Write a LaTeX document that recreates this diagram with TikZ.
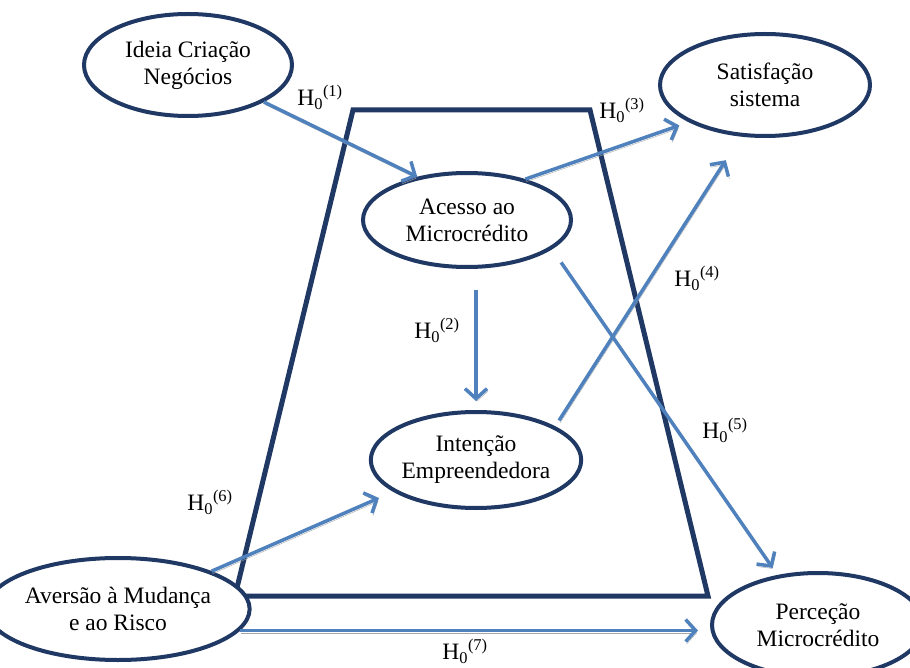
\documentclass[tikz,border=0pt]{standalone}
\usepackage{fontspec}
\setmainfont{Liberation Serif}
\usetikzlibrary{shapes.geometric,arrows.meta}
\definecolor{navy}{RGB}{31,56,100}
\definecolor{linkblue}{RGB}{79,129,189}
\tikzset{
  construct/.style={ellipse, draw=navy, line width=4pt, fill=white, inner sep=0pt,
    align=center, font=\fontsize{23.5}{27}\selectfont},
  link/.style={draw=linkblue, line width=3.5pt,
    -{Straight Barb[length=10pt,width=22pt]},
    preaction={draw=black!35, transform canvas={shift={(1pt,-2.5pt)}}}},
  hyp/.style={inner sep=0pt, font=\fontsize{23.5}{27}\selectfont},
  frame/.style={draw=navy, line width=5pt, line join=miter}
}
\newcommand{\hz}[1]{H\textsubscript{0}\textsuperscript{(#1)}}
\begin{document}
\begin{tikzpicture}[x=1pt,y=-1pt]
\clip (0,0) rectangle (910,668);
\fill[white] (0,0) rectangle (910,668);

% central trapezoid
\draw[frame] (353,110) -- (590,110) -- (708,596) -- (235,596) -- cycle;

% constructs
\node[construct, minimum width=208pt, minimum height=102pt] (idea) at (188,65) {Ideia Criação\\Negócios};
\node[construct, minimum width=210pt, minimum height=102pt] (sat) at (765,85) {Satisfação\\sistema};
\node[construct, minimum width=208pt, minimum height=94pt] (acc) at (467,220) {Acesso ao\\Microcrédito};
\node[construct, minimum width=208pt, minimum height=96pt] (int) at (476,460) {Intenção\\Empreendedora};
\node[construct, minimum width=212pt, minimum height=102pt] (av) at (118,609) {Aversão à Mudança\\e ao Risco};
\node[construct, minimum width=212pt, minimum height=104pt] (per) at (818,625) {Perceção\\Microcrédito};

% hypotheses
\draw[link] (idea.-26) -- (acc.139);
\draw[link, shorten <=21pt, shorten >=9pt] (acc.south -| int.north) -- (int.north);
\draw[link, shorten >=10pt] (acc.35) -- (sat.-154.7);
\draw[link, shorten <=7pt, shorten >=28pt] (int.23.9) -- (sat.-115.7);
\draw[link, shorten <=16pt, shorten >=8.5pt] (acc.-19.3) -- (per.129.4);
\draw[link, shorten >=15.6pt] (av.22) -- (int.-159.9);
\draw[link, shorten >=12pt] (av.-10) -- (av.-10 -| per.west);

% hypothesis labels
\node[hyp] (h1) at (320,97) {\hz{1}};
\node[hyp] (h2) at (437,330) {\hz{2}};
\node[hyp] (h3) at (622,110) {\hz{3}};
\node[hyp] (h4) at (697,278) {\hz{4}};
\node[hyp] (h5) at (725,430) {\hz{5}};
\node[hyp] (h6) at (210,502) {\hz{6}};
\node[hyp] (h7) at (465,651) {\hz{7}};
\end{tikzpicture}
\end{document}
